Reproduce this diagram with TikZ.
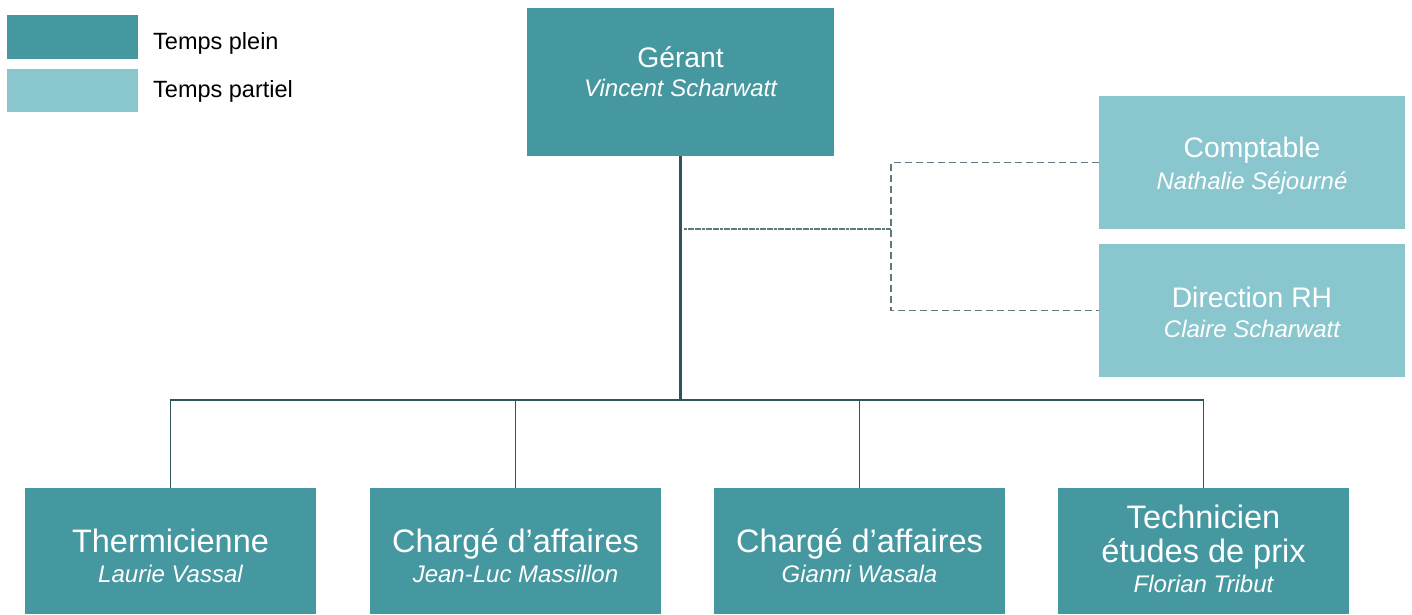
\documentclass[tikz,border=0pt]{standalone}
\usepackage{fontspec}
\setmainfont{Liberation Sans}
\definecolor{dark}{HTML}{4597A0}
\definecolor{light}{HTML}{8AC6CD}
\definecolor{lineC}{HTML}{2E5559}
\definecolor{dashC}{HTML}{5F7A7E}
\newcommand{\ttl}{\fontsize{28.3}{34}\selectfont}
\newcommand{\btl}{\fontsize{32.5}{34}\selectfont}
\newcommand{\nme}{\fontsize{24}{30}\selectfont\itshape}
\newcommand{\lgd}{\fontsize{23.5}{28}\selectfont}
\begin{document}
\begin{tikzpicture}[x=1pt,y=-1pt,
  box/.style={draw=none,inner sep=0,outer sep=0,minimum width=#1},
  dbox/.style={box=#1,fill=dark},
  lbox/.style={box=#1,fill=light},
  txt/.style={anchor=base,inner sep=0,text=white},
  solidline/.style={draw=lineC,line width=1.6pt},
  mainline/.style={draw=lineC,line width=2.2pt},
  dashline/.style={draw=dashC,line width=1.6pt,dash pattern=on 7pt off 4pt},
  fineline/.style={draw=dashC,line width=1.8pt,dash pattern=on 3pt off 0.6pt}]
\useasboundingbox (0,0) rectangle (1412,614);
% legend
\node[dbox=131pt,minimum height=44pt] (lg1) at (72.5,37) {};
\node[lbox=131pt,minimum height=43pt] (lg2) at (72.5,90.5) {};
\node[anchor=base west,inner sep=0] (lt1) at (153,49) {\lgd Temps plein};
\node[anchor=base west,inner sep=0] (lt2) at (153,97) {\lgd Temps partiel};
% top
\node[dbox=307pt,minimum height=148pt] (ger) at (680.5,82) {};
\node[txt] (gert) at (680.5,67) {\ttl Gérant};
\node[txt] (gern) at (680.5,96) {\nme Vincent Scharwatt};
% right
\node[lbox=306pt,minimum height=133pt] (comp) at (1252,162.5) {};
\node[txt] (compt) at (1252,157) {\ttl Comptable};
\node[txt] (compn) at (1252,189) {\nme Nathalie Séjourné};
\node[lbox=306pt,minimum height=133pt] (drh) at (1252,310.5) {};
\node[txt] (drht) at (1252,307) {\ttl Direction RH};
\node[txt] (drhn) at (1252,337) {\nme Claire Scharwatt};
% bottom
\node[dbox=291pt,minimum height=126pt] (b1) at (170.5,551) {};
\node[txt] (b1t) at (170.5,552) {\btl Thermicienne};
\node[txt] (b1n) at (170.5,582) {\nme Laurie Vassal};
\node[dbox=291pt,minimum height=126pt] (b2) at (515.5,551) {};
\node[txt] (b2t) at (515.5,552) {\btl Chargé d’affaires};
\node[txt] (b2n) at (515.5,582) {\nme Jean-Luc Massillon};
\node[dbox=291pt,minimum height=126pt] (b3) at (859.5,551) {};
\node[txt] (b3t) at (859.5,552) {\btl Chargé d’affaires};
\node[txt] (b3n) at (859.5,582) {\nme Gianni Wasala};
\node[dbox=291pt,minimum height=126pt] (b4) at (1203.5,551) {};
\node[txt] (b4t) at (1203.5,528) {\btl Technicien};
\node[txt] (b4u) at (1203.5,562) {\btl études de prix};
\node[txt] (b4n) at (1203.5,592) {\nme Florian Tribut};
% connectors
\coordinate (bus) at (680.5,400);
\coordinate (busL) at (b1.north |- bus);
\coordinate (busR) at (b4.north |- bus);
\draw[mainline] (ger.south) -- (bus);
\draw[solidline] (b1.north) -- (busL) -- (busR) -- (b4.north);
\draw[solidline] (b2.north) -- (b2.north |- bus);
\draw[solidline] (b3.north) -- (b3.north |- bus);
\coordinate (ds) at (684,229);
\coordinate (dj) at (891,229);
\draw[fineline] (ds) -- (dj);
\draw[dashline] (comp.west) -| (dj) |- (drh.west);
\end{tikzpicture}
\end{document}
